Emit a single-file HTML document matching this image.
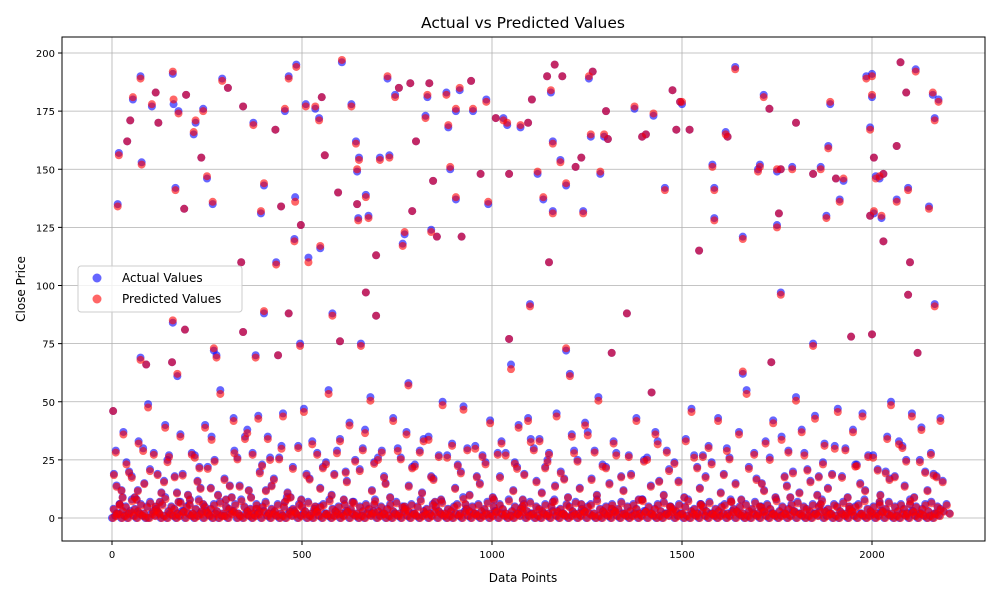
<!DOCTYPE html>
<html><head><meta charset="utf-8"><style>
body{margin:0;background:#fff;font-family:"DejaVu Sans","Liberation Sans",sans-serif}
svg text{font-family:"DejaVu Sans","Liberation Sans",sans-serif;fill:#000}
</style></head><body>
<svg id="chart" width="1000" height="600">
<rect width="1000" height="600" fill="#fff"/>
<text x="523" y="28" font-size="15.5" text-anchor="middle">Actual vs Predicted Values</text>
<text x="523" y="582" font-size="12" text-anchor="middle">Data Points</text>
<text transform="translate(25,289) rotate(-90)" font-size="12" text-anchor="middle">Close Price</text>
<g id="grid"></g><g id="pts"></g><g id="axes"></g>
<g>
<rect x="78" y="266" width="164" height="46" fill="#fff" fill-opacity="0.8" stroke="#ccc" rx="3"/>
<circle cx="97" cy="278" r="4.5" fill="blue" fill-opacity="0.6"/>
<text x="122" y="282" font-size="12">Actual Values</text>
<circle cx="97" cy="299" r="4.5" fill="red" fill-opacity="0.6"/>
<text x="122" y="303" font-size="12">Predicted Values</text>
</g>
</svg>
<script>
const xTicks=[0,500,1000,1500,2000];
const yTicks=[0,25,50,75,100,125,150,175,200];
const hx=[3,15,18,40,48,55,75,78,75,90,105,115,122,160,162,160,158,167,172,175,190,195,192,215,220,235,240,250,265,268,275,290,305,340,345,345,372,392,400,400,378,430,432,437,445,455,465,465,480,482,485,495,497,510,517,535,545,548,552,560,580,595,605,600,630,642,645,645,648,650,655,668,668,675,695,695,705,725,730,745,755,765,770,785,790,800,780,825,830,835,840,845,855,880,885,890,905,905,915,920,945,950,970,985,990,1010,1030,1040,1045,1045,1075,1095,1100,1105,1120,1135,1145,1150,1155,1160,1160,1165,1180,1185,1195,1195,1205,1220,1235,1240,1255,1260,1265,1285,1295,1300,1305,1315,1355,1375,1395,1405,1425,1420,1455,1475,1485,1495,1500,1520,1545,1585,1585,1580,1615,1620,1640,1660,1660,1700,1705,1715,1730,1735,1750,1750,1760,1755,1760,1790,1800,1845,1845,1865,1880,1885,1890,1905,1915,1925,1945,1985,1995,1995,2000,2000,2005,2005,2000,2010,2020,2030,2025,2030,2065,2065,2075,2090,2095,2095,2100,2115,2120,2150,2160,2165,2165,2175];
const hActual=[46,135,157,162,171,180,190,153,69,66,177,183,170,191,178,84,67,142,61,175,133,182,81,165,170,155,176,146,135,72,70,189,185,110,177,80,170,131,143,88,70,167,110,70,134,175,190,88,120,138,195,75,126,178,112,176,172,116,181,156,88,140,196,76,178,162,149,135,129,155,75,139,97,130,113,87,155,189,156,182,185,118,122,187,132,162,58,173,181,187,124,145,121,183,168,150,137,175,184,121,188,175,148,180,135,172,172,169,148,77,168,170,92,180,148,137,190,110,183,162,132,195,154,190,143,72,62,151,155,132,189,164,192,148,164,175,163,71,88,176,164,165,173,54,142,184,167,179,178,167,115,129,142,152,166,164,194,62,121,150,152,182,176,67,126,149,150,131,97,151,170,148,75,151,130,160,178,146,137,145,78,190,168,130,191,181,155,131,79,147,146,148,129,119,137,160,196,183,142,96,110,193,71,134,182,172,92,180];
const hPred=[46,134,156,162,171,181,189,152,68,66,178,183,170,192,180,85,67,141,62,174,133,182,81,166,171,155,175,147,136,73,69,188,185,110,177,80,169,132,144,89,69,167,109,70,134,176,189,88,119,136,194,74,126,177,110,177,171,117,181,156,87,140,197,76,177,161,150,135,128,154,74,138,97,129,113,87,154,190,155,181,185,117,123,187,132,162,57,172,182,187,123,145,121,182,169,151,138,176,185,121,188,176,148,179,136,172,171,170,148,77,169,170,91,180,149,138,190,110,184,161,131,195,153,190,144,73,61,151,155,131,190,165,192,149,165,175,163,71,88,177,164,165,174,54,141,184,167,179,179,167,115,128,141,151,165,164,193,63,120,149,151,181,176,67,125,150,150,131,96,150,170,148,74,150,129,159,179,146,136,146,78,189,167,130,190,182,155,132,79,146,147,148,130,119,136,160,196,183,141,96,110,192,71,133,183,171,91,179];
const mx=[5,10,25,30,45,60,70,85,95,110,120,130,140,150,165,180,200,210,225,230,245,260,270,285,300,310,320,330,350,360,370,385,395,410,420,440,450,470,490,505,520,540,555,570,585,600,615,625,640,660,680,690,710,720,740,760,775,790,810,820,840,860,870,895,910,925,935,960,975,995,1015,1025,1050,1060,1070,1085,1095,1110,1125,1140,1150,1170,1190,1210,1225,1245,1270,1280,1300,1320,1340,1360,1380,1400,1430,1440,1460,1480,1510,1525,1540,1555,1570,1595,1610,1625,1650,1670,1690,1710,1720,1740,1770,1780,1800,1815,1830,1850,1860,1875,1895,1910,1930,1950,1960,1975,1990,2015,2040,2050,2060,2080,2090,2105,2130,2140,2155,2170,2180,20,65,115,175,240,315,380,455,535,610,690,770,850,930,1005,1080,1160,1235,1315,1395,1470,1550,1630,1705,1785,1865,1940,2020,2100];
const mActual=[19,29,12,37,20,9,33,15,49,28,19,11,40,27,18,36,10,28,16,22,40,13,25,55,8,14,43,26,35,12,28,44,23,35,14,26,45,9,31,47,17,28,22,55,19,34,20,41,25,30,52,24,29,15,43,26,37,22,29,34,18,27,50,32,23,48,30,18,27,42,28,33,66,24,40,19,43,30,34,22,28,45,17,36,25,41,29,52,22,33,18,27,43,25,37,16,29,24,34,47,22,27,31,43,19,26,37,55,28,15,33,42,18,29,52,38,21,44,18,32,19,47,30,38,23,45,27,21,35,50,18,31,25,45,39,20,28,18,43,6,8,5,7,6,9,4,7,5,8,6,5,7,6,8,5,7,6,4,8,5,6,7,5,9,6,5,7,6];
const mx2=[12,28,38,52,68,82,100,126,137,146,171,186,205,218,233,252,262,279,296,322,336,356,366,389,405,416,426,446,462,476,498,512,527,548,563,578,592,618,633,652,666,684,700,716,732,752,781,797,816,833,846,866,882,903,918,941,956,968,983,1002,1021,1036,1056,1066,1081,1102,1117,1131,1146,1166,1181,1200,1216,1231,1252,1262,1276,1291,1309,1327,1346,1366,1386,1408,1418,1436,1452,1466,1491,1506,1532,1547,1562,1578,1602,1618,1641,1656,1676,1696,1716,1731,1746,1762,1776,1792,1809,1822,1838,1856,1871,1884,1902,1921,1936,1956,1969,1982,2003,2022,2036,2046,2071,2086,2111,2126,2146,2162,2186];
const mActual2=[14,9,24,18,12,30,21,7,16,25,11,19,8,27,13,22,35,10,17,29,14,38,9,20,12,26,17,31,11,22,8,19,33,13,24,10,29,16,7,21,38,12,26,18,9,30,14,23,11,35,17,8,27,13,20,10,31,15,24,9,18,28,12,22,8,34,16,11,25,14,20,9,29,13,37,17,10,23,15,28,12,19,8,26,14,33,10,21,16,9,27,13,18,24,11,30,15,8,22,17,12,26,9,35,14,20,11,28,16,10,24,13,31,18,9,23,15,12,27,10,20,17,33,14,9,25,12,19,16];
const lowVals=[0,1,2,0,1,0,3,1,0,2,1,0,0,2,1,3,0,1,0,2,1,0,1,3,0,2,1,0,1,2,0,3,1,0,2,0,1,1,0,2,3,0,1,0,2,1,0,1,2,0,3,1,0,2,1,0,1,0,2,1,3,0,1,2,0,1,0,3,1,0,2,1,0,1,2,0,1,3,0,2,1,0,1,0,2,1,3,0,1,2,0,1,0,2,1,0,3,1,0,2,1,0,1,2,0,1,3,0,2,1,0,1,0,2,1,0,3,1,0,2,1,0,1,2,0,1,3,0,2,1,0,1,0,2,1,3,0,1,2,0,1,0,2,1,0,3,1,0,2,1,0,1,2,0,1,3,0,2,1,0,1,0,2,1,0,3,1,0,2,1,0,1,2,0,1,3,0,2,1,0,1,0,2,1,3,0,1,2,0,1,0,2,1,0,3,1,0,2,1,0,1,2,0,1,3,0,2,1,0,1,0,2,1,0,3,1,0,2,1,0,1,2,0,1,3,0,2,1,0,1,0,2,1,3,0,1,2,0,1,0,2,1,0,3,1,0,2,1,0,1,2,0,1,3,0,2,1,0,1,0,2,1,0,3,1,0,2,1,0,1,0,2,1];
const lowVals2=[4,2,6,3,5,2,8,4,3,6,2,5,7,3,4,2,6,9,3,5,4,2,7,3,5,6,2,4,8,3,5,2,4,6,3,7,2,5,4,3,6,2,8,5,3,4,2,6,3,5,7,2,4,3,6,2,5,9,3,4,2,6,5,3,7,2,4,3,5,6,2,8,4,3,5,2,6,3,4,7,2,5,3,6,4,2,8,3,5,2,4,6,3,7,2,5,4,3,6,2,5,8,3,4,2,6,5,3,7,2,4,3,5,6,2,9,4,3,5,2,6,3,4,7,2,5,3,6,4,2,8,3,5,2,4,6,3,7,2,5,4,3,6,2,5,8,3,4,2,6,5,3,7,2,4,3,5,6,2,8,4,3,5,2,6,3,4,7,2,5,3,6,4,2,8,3,5,2,4,6,3,7,2,5,4,3,6,2,5,8,3,4,2,6,5,3,7,2,4,3,5,6,2,8,4,3,5,2,6,3,4,7,2,5,3,6,4,2,8,3,5,2,4,6,3,7,2,5,4,3,6,2,5,8,3,4,2,6,5,3,7,2,4,3,5,6,2,8,4,3,5,2,6,3,4,7,2,5,3,6,4,2,8,3,5,2,4,6,3,7,2,5,4,3,6,2];
const NS='http://www.w3.org/2000/svg';
const L=62,R=985,T=37,B=541;
const sx=v=>112+v*0.38, sy=v=>518-v*2.325;
const grid=document.getElementById('grid'),axes=document.getElementById('axes'),pts=document.getElementById('pts');
function mk(tag,at,p){const e=document.createElementNS(NS,tag);for(const k in at)e.setAttribute(k,at[k]);p.appendChild(e);return e;}
xTicks.forEach(t=>{
 const g=mk('line',{x1:sx(t),x2:sx(t),y1:T,y2:B,stroke:'#b0b0b0','stroke-width':0.8},grid);
 
 
 mk('line',{x1:sx(t),x2:sx(t),y1:B,y2:B+4,stroke:'#000'},axes);
 const tx=mk('text',{x:sx(t),y:B+17,'font-size':10,'text-anchor':'middle'},axes);tx.textContent=t;
 
 
});
yTicks.forEach(t=>{
 const g=mk('line',{x1:L,x2:R,y1:sy(t),y2:sy(t),stroke:'#b0b0b0','stroke-width':0.8},grid);
 
 
 mk('line',{x1:L-4,x2:L,y1:sy(t),y2:sy(t),stroke:'#000'},axes);
 const tx=mk('text',{x:L-7,y:sy(t)+4,'font-size':10,'text-anchor':'end'},axes);tx.textContent=t;
 
 
});
const fr=mk('rect',{x:L,y:T,width:R-L,height:B-T,fill:'none',stroke:'#000','stroke-width':1},axes);


function dot(x,y,c,name){const e=mk('circle',{cx:sx(x),cy:sy(y),r:4,fill:c,'fill-opacity':0.6},pts);
 
 }
lowVals.forEach((v,i)=>dot(i*8,v,'blue','actual-point'));
lowVals2.forEach((v,i)=>dot(i*8+4,v,'blue','actual-point'));
mx.forEach((x,i)=>dot(x,mActual[i],'blue','actual-point'));
mx2.forEach((x,i)=>dot(x,mActual2[i],'blue','actual-point'));
hx.forEach((x,i)=>dot(x,hActual[i],'blue','actual-point'));
lowVals.forEach((v,i)=>dot(i*8+3,v*0.8,'red','predicted-point'));
lowVals2.forEach((v,i)=>dot(i*8+5,v*0.9,'red','predicted-point'));
mx.forEach((x,i)=>dot(x,mActual[i]*0.97,'red','predicted-point'));
mx2.forEach((x,i)=>dot(x,mActual2[i]*0.96,'red','predicted-point'));
hx.forEach((x,i)=>dot(x,hPred[i],'red','predicted-point'));
</script>
</body></html>
